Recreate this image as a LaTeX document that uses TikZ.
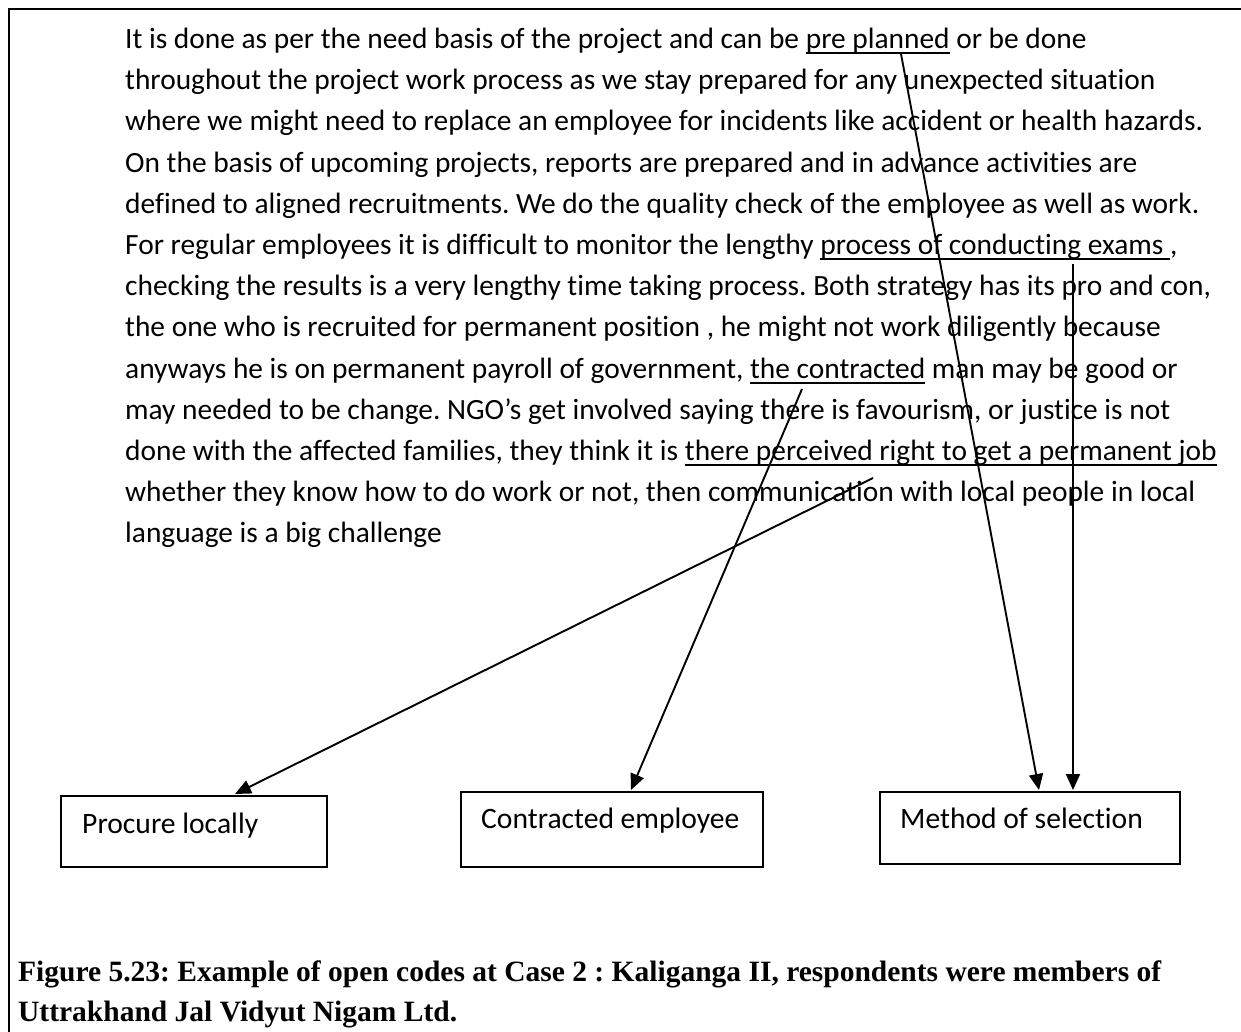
\documentclass[tikz,border=0pt]{standalone}
\usepackage{fontspec}
\setmainfont{Carlito}[Ligatures={NoCommon}]
\newfontfamily\capfont{Liberation Serif}
\usetikzlibrary{arrows.meta,calc}
\frenchspacing

% underlined code word: rule sits just below the baseline
\newsavebox\codeulbox
\newcommand\codeul[1]{\sbox\codeulbox{#1}\rlap{\rule[-5.6pt]{\wd\codeulbox}{1.7pt}}\usebox{\codeulbox}}

\tikzset{
  bodyline/.style={anchor=base west, inner sep=0pt, font=\fontsize{29.4}{41.2}\selectfont},
  codebox/.style={draw, line width=1.6pt, anchor=north west, inner sep=0pt},
  boxtext/.style={anchor=base west, inner sep=0pt, font=\fontsize{29.6}{34}\selectfont},
  captext/.style={anchor=base west, inner sep=0pt, font=\capfont\bfseries\fontsize{29.5}{40}\selectfont},
  codearrow/.style={line width=1.9pt, -{Triangle[length=16pt,width=14pt]}},
}

\begin{document}
\begin{tikzpicture}[x=1pt,y=-1pt]
\useasboundingbox (0,0) rectangle (1241,1032);
\clip (0,0) rectangle (1241,1032);
\fill[white] (0,0) rectangle (1241,1032);

% outer frame (runs off the right and bottom edges)
\draw[line width=2pt] (9,1060) -- (9,9) -- (1260,9);

% interview excerpt
\node[bodyline] (l1)  at (125,48.5)  {It is done as per the need basis of the project and can be \codeul{pre planned} or be done};
\node[bodyline] (l2)  at (125,89.7)  {throughout the project work process as we stay prepared for any unexpected situation};
\node[bodyline] (l3)  at (125,130.9) {where we might need to replace an employee for incidents like accident or health hazards.};
\node[bodyline] (l4)  at (125,172.1) {On the basis of upcoming projects, reports are prepared and in advance activities are};
\node[bodyline] (l5)  at (125,213.3) {defined to aligned recruitments. We do the quality check of the employee as well as work.};
\node[bodyline] (l6)  at (125,254.5) {For regular employees it is difficult to monitor the lengthy \codeul{process of conducting exams },};
\node[bodyline] (l7)  at (125,295.7) {checking the results is a very lengthy time taking process. Both strategy has its pro and con,};
\node[bodyline] (l8)  at (125,336.9) {the one who is recruited for permanent position , he might not work diligently because};
\node[bodyline] (l9)  at (125,378.1) {anyways he is on permanent payroll of government, \codeul{the contracted} man may be good or};
\node[bodyline] (l10) at (125,419.3) {may needed to be change. NGO's get involved saying there is favourism, or justice is not};
\node[bodyline] (l11) at (125,460.5) {done with the affected families, they think it is \codeul{there perceived right to get a permanent job}};
\node[bodyline] (l12) at (125,501.7) {whether they know how to do work or not, then communication with local people in local};
\node[bodyline] (l13) at (125,542.9) {language is a big challenge};

% open codes
\node[codebox, minimum width=266pt, minimum height=71pt] (proc) at (60,795) {};
\node[boxtext] (proct) at ($(proc.north west)+(22,38)$) {Procure locally};
\node[codebox, minimum width=302pt, minimum height=75pt] (cont) at (460,791) {};
\node[boxtext] (contt) at ($(cont.north west)+(21,37)$) {Contracted employee};
\node[codebox, minimum width=300pt, minimum height=72pt] (meth) at (879,791) {};
\node[boxtext] (metht) at ($(meth.north west)+(21,37)$) {Method of selection};

% where each code is picked up in the text
\coordinate (sPre)  at (901,54);
\coordinate (sExam) at (1073,264);
\coordinate (sCont) at (802,389);
\coordinate (sComm) at (873,478);

\draw[codearrow] (sPre)  -- ($(meth.north west)+(160,-1)$);
\draw[codearrow] (sExam) -- ($(meth.north west)+(194,-1)$);
\draw[codearrow] (sCont) -- ($(cont.north west)+(171,-1)$);
\draw[codearrow] (sComm) -- ($(proc.north west)+(175,-1)$);

% caption
\node[captext] (cap1) at (18,981) {Figure 5.23: Example of open codes at Case 2 : Kaliganga II, respondents were members of};
\node[captext] (cap2) at (18,1021) {Uttrakhand Jal Vidyut Nigam Ltd.};
\end{tikzpicture}
\end{document}
